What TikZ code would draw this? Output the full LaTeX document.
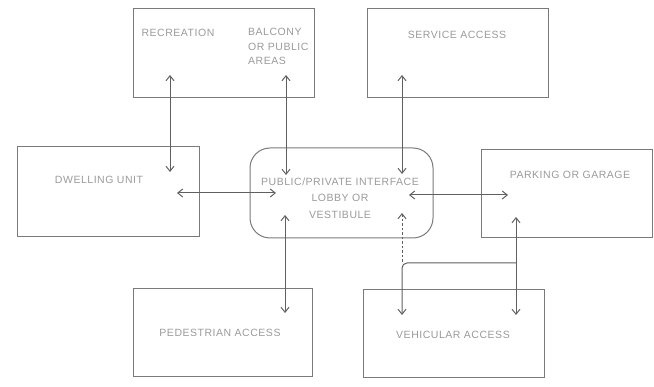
\documentclass[tikz,border=0pt]{standalone}
\usepackage{fontspec}
\setmainfont{Liberation Sans}[LetterSpace=5]
\usetikzlibrary{arrows.meta}
\definecolor{linec}{HTML}{7A7A7A}
\definecolor{arrc}{HTML}{606060}
\definecolor{textc}{HTML}{9A9A9A}
\begin{document}
\begin{tikzpicture}[x=1pt,y=-1pt,
  box/.style={draw=linec, line width=1pt, inner sep=0pt, fill=none},
  lbl/.style={text=textc, font=\fontsize{10.5}{13}\selectfont, inner sep=0pt, align=center},
  tip/.style={Straight Barb[length=5pt,width=8pt]},
  conn/.style={draw=arrc, line width=1pt, {Straight Barb[length=5pt,width=8pt]}-{Straight Barb[length=5pt,width=8pt]}},
  oneway/.style={draw=arrc, line width=1pt, -{Straight Barb[length=5pt,width=8pt]}},
  tipback/.style={draw=arrc, line width=1pt, {Straight Barb[length=5pt,width=8pt]}-}]
\useasboundingbox (0,0) rectangle (654,387);
% boxes
\node[box, minimum width=181pt, minimum height=89pt] (rec) at (223.5,53) {};
\node[box, minimum width=181pt, minimum height=89pt] (srv) at (457.5,53.5) {};
\node[box, minimum width=182pt, minimum height=90pt] (dwl) at (108,192) {};
\node[box, rounded corners=20pt, minimum width=183pt, minimum height=90pt] (ctr) at (341.5,193) {};
\node[box, minimum width=171pt, minimum height=88pt] (prk) at (566.5,194) {};
\node[box, minimum width=179pt, minimum height=88pt] (ped) at (222.5,333) {};
\node[box, minimum width=181pt, minimum height=88pt] (veh) at (453.5,334) {};
% labels
\node[lbl] (recT) at (178,33) {RECREATION};
\node[lbl, align=left, anchor=north west, font=\fontsize{10.5}{14.5}\selectfont] (balT) at (248,28) {BALCONY\\OR PUBLIC\\AREAS};
\node[lbl] (srvT) at (457,35) {SERVICE ACCESS};
\node[lbl] (dwlT) at (99,180) {DWELLING UNIT};
\node[lbl, font=\fontsize{10.5}{16.5}\selectfont] (ctrT) at (340,198) {PUBLIC/PRIVATE INTERFACE\\LOBBY OR\\VESTIBULE};
\node[lbl] (prkT) at (570,175) {PARKING  OR GARAGE};
\node[lbl] (pedT) at (220,333) {PEDESTRIAN ACCESS};
\node[lbl] (vehT) at (453,335) {VEHICULAR ACCESS};
% connector end points
\coordinate (recA) at (170,75);   \coordinate (dwlA) at (170,172);
\coordinate (balA) at (286,75);   \coordinate (ctrN1) at (286,175);
\coordinate (srvA) at (402,75);   \coordinate (ctrN2) at (402,174);
\coordinate (dwlB) at (177,193);  \coordinate (ctrW) at (276,193);
\coordinate (ctrE) at (409,195);  \coordinate (prkW) at (508,195);
\coordinate (ctrS1) at (285,215); \coordinate (pedA) at (285,313);
\coordinate (ctrS2) at (402,213); \coordinate (junL) at (402,263);
\coordinate (prkS) at (516,217);  \coordinate (vehR) at (516,315);
\coordinate (junR) at (516,263);  \coordinate (vehL) at (402,315);
% connectors
\draw[conn] (recA) -- (dwlA);
\draw[conn] (balA) -- (ctrN1);
\draw[conn] (srvA) -- (ctrN2);
\draw[conn] (dwlB) -- (ctrW);
\draw[conn] (ctrE) -- (prkW);
\draw[conn] (ctrS1) -- (pedA);
\draw[conn] (prkS) -- (vehR);
\draw[tipback, dash pattern=on 2.5pt off 2pt] (ctrS2) -- (junL);
\draw[oneway, rounded corners=5pt] (junR) -- (junL) -- (vehL);
\end{tikzpicture}
\end{document}
